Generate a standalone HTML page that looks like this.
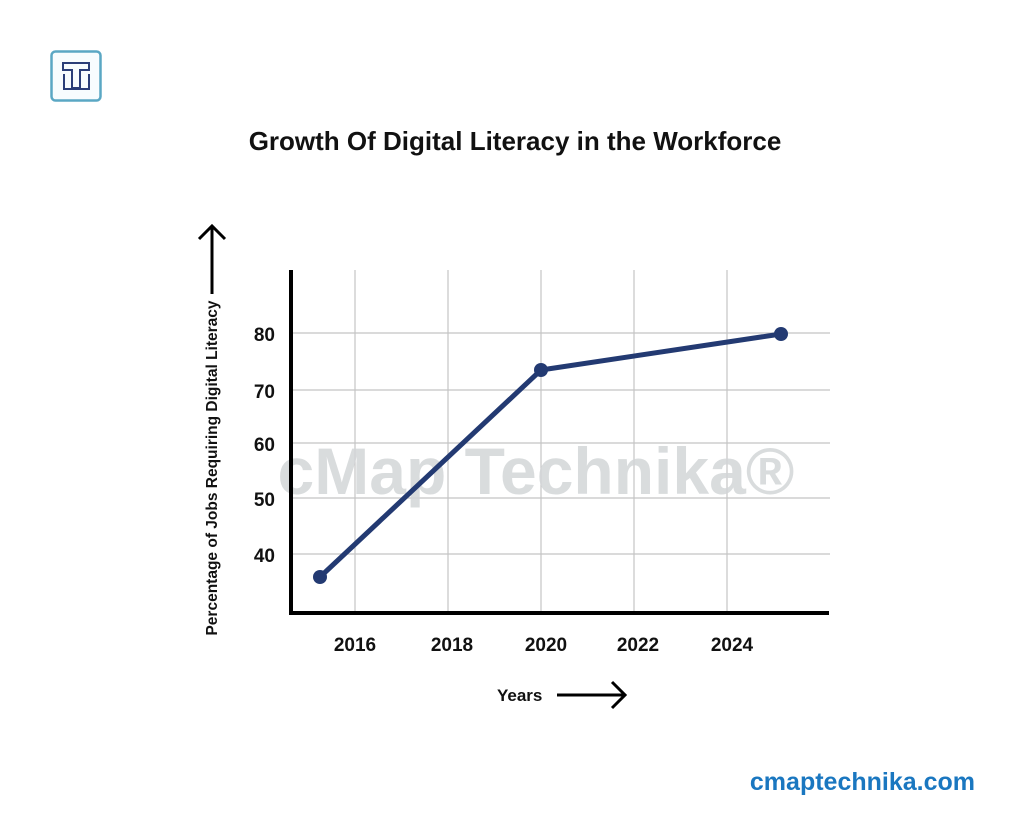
<!DOCTYPE html>
<html><head><meta charset="utf-8"><style>
html,body{margin:0;padding:0;background:#fff;}
svg{display:block;font-family:"Liberation Sans","DejaVu Sans",sans-serif;}
</style></head><body>
<svg width="1031" height="837" viewBox="0 0 1031 837" xmlns="http://www.w3.org/2000/svg">
<rect width="1031" height="837" fill="#fff"/>
<!-- logo -->
<rect x="51.5" y="51.5" width="49" height="49" rx="4" fill="#f7fcfe" stroke="#5aa7c4" stroke-width="2.5"/>
<path d="M63 63 H89 V70 H80 V88 H72 V70 H63 Z" fill="none" stroke="#2a3e78" stroke-width="2"/>
<path d="M89 74 V89 H64 V74" fill="none" stroke="#2a3e78" stroke-width="2"/>
<!-- title -->
<text x="515" y="150" text-anchor="middle" font-size="26" font-weight="bold" fill="#111">Growth Of Digital Literacy in the Workforce</text>
<!-- grid -->
<g stroke="#c4c4c4" stroke-width="1.2">
<line x1="355" y1="270" x2="355" y2="612"/><line x1="448" y1="270" x2="448" y2="612"/>
<line x1="541" y1="270" x2="541" y2="612"/><line x1="634" y1="270" x2="634" y2="612"/>
<line x1="727" y1="270" x2="727" y2="612"/>
<line x1="291" y1="333" x2="830" y2="333"/><line x1="291" y1="390" x2="830" y2="390"/>
<line x1="291" y1="443" x2="830" y2="443"/><line x1="291" y1="498" x2="830" y2="498"/>
<line x1="291" y1="554" x2="830" y2="554"/>
</g>
<!-- watermark -->
<text x="536" y="494" text-anchor="middle" font-size="66" font-weight="bold" fill="#d3d6d8" opacity="0.85">cMap Technika®</text>
<!-- axes -->
<path d="M291 270 V613 H829" fill="none" stroke="#000" stroke-width="4"/>
<!-- series -->
<polyline points="320,577 541,370 781,334" fill="none" stroke="#233a72" stroke-width="5" stroke-linejoin="round"/>
<g fill="#233a72"><circle cx="320" cy="577" r="7"/><circle cx="541" cy="370" r="7"/><circle cx="781" cy="334" r="7"/></g>
<!-- y ticks -->
<g font-size="19" font-weight="bold" fill="#111" text-anchor="end">
<text x="275" y="341">80</text><text x="275" y="398">70</text><text x="275" y="451">60</text>
<text x="275" y="506">50</text><text x="275" y="562">40</text>
</g>
<!-- x ticks -->
<g font-size="19" font-weight="bold" fill="#111" text-anchor="middle">
<text x="355" y="651">2016</text><text x="452" y="651">2018</text><text x="546" y="651">2020</text>
<text x="638" y="651">2022</text><text x="732" y="651">2024</text>
</g>
<!-- y label -->
<text transform="translate(217,468) rotate(-90)" text-anchor="middle" font-size="15.5" font-weight="bold" fill="#111">Percentage of Jobs Requiring Digital Literacy</text>
<path d="M212 294 V226 M199 239 L212 226 L225 239" fill="none" stroke="#000" stroke-width="3"/>
<!-- x label -->
<text x="497" y="701" font-size="17" font-weight="bold" fill="#111">Years</text>
<path d="M557 695 H625 M612 682 L625 695 L612 708" fill="none" stroke="#000" stroke-width="3"/>
<!-- url -->
<text x="975" y="790" text-anchor="end" font-size="25" font-weight="bold" fill="#1a77c0">cmaptechnika.com</text>
</svg>
</body></html>
